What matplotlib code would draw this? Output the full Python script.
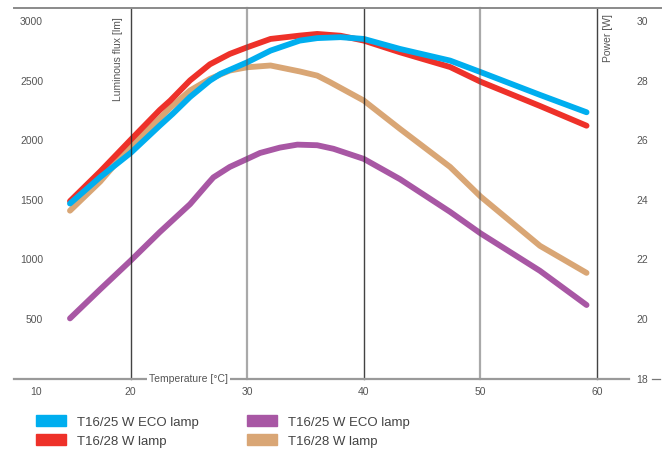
import matplotlib
matplotlib.use("Agg")
import matplotlib.pyplot as plt
from matplotlib.patches import Patch

plt.rcParams['font.family'] = ['Liberation Sans', 'DejaVu Sans']

# ---------------- data ----------------
# Luminous flux [lm] (left axis)
blue_x = [14.8, 17.4, 20.0, 22.5, 23.6, 25.1, 26.8, 27.7, 30.0, 32.0, 34.5, 36.0, 38.0, 40.0, 43.1, 47.4, 50.0, 55.1, 59.1]
blue_y = [1470, 1693, 1895, 2125, 2223, 2366, 2503, 2559, 2657, 2755, 2839, 2860, 2868, 2853, 2769, 2671, 2575, 2383, 2237]
blue_label = "T16/25 W ECO lamp"

red_x = [14.8, 17.4, 20.0, 22.5, 23.4, 25.1, 26.8, 28.5, 30.0, 32.0, 34.5, 36.0, 38.0, 40.0, 43.1, 47.4, 50.0, 55.1, 59.1]
red_y = [1490, 1740, 2005, 2256, 2335, 2505, 2640, 2727, 2783, 2853, 2881, 2895, 2880, 2839, 2741, 2617, 2494, 2290, 2124]
red_label = "T16/28 W lamp"

# Power [W] (right axis)
purple_x = [14.8, 17.4, 20.0, 22.5, 25.1, 26.6, 27.1, 28.5, 30.0, 31.1, 32.8, 34.3, 36.0, 37.4, 40.0, 43.1, 47.4, 50.0, 55.1, 59.1]
purple_y = [20.02, 21.00, 21.96, 22.92, 23.86, 24.54, 24.76, 25.11, 25.38, 25.58, 25.76, 25.86, 25.84, 25.72, 25.38, 24.70, 23.60, 22.88, 21.62, 20.47]
purple_label = "T16/25 W ECO lamp"

tan_x = [14.8, 17.4, 20.0, 22.5, 23.4, 25.1, 26.8, 28.5, 30.0, 32.0, 34.5, 36.0, 37.1, 40.0, 43.1, 47.4, 50.0, 55.1, 59.1]
tan_y = [23.64, 24.62, 25.80, 26.74, 27.10, 27.68, 28.07, 28.35, 28.46, 28.52, 28.32, 28.18, 27.96, 27.34, 26.39, 25.11, 24.12, 22.46, 21.55]
tan_label = "T16/28 W lamp"

x_ticks = [10, 20, 30, 40, 50, 60]
lum_ticks = [500, 1000, 1500, 2000, 2500, 3000]
pow_ticks = [20, 22, 24, 26, 28, 30]
pow_bottom_tick = 18

x_title = "Temperature [°C]"
lum_title = "Luminous flux [lm]"
pow_title = "Power [W]"

# ---------------- style ----------------
C_BLUE = "#00AEEF"
C_RED = "#EE3129"
C_PURPLE = "#A857A4"
C_TAN = "#D9A675"
TXT = "#555555"
LW = 4.2

fig = plt.figure(figsize=(6.62, 4.52), dpi=100)
W, H = 662, 452
ax_left, ax_right = 14, 662
ax_top, ax_bot = 9, 379.5
ax = fig.add_axes([ax_left / W, 1 - ax_bot / H, (ax_right - ax_left) / W, (ax_bot - ax_top) / H])
ax2 = ax.twinx()

LUM_TOP = 3113
ax.set_xlim(10, 65.57)
ax.set_ylim(0, LUM_TOP)
ax2.set_ylim(18, 18 + LUM_TOP / 250)

for a in (ax, ax2):
    for s in a.spines.values():
        s.set_visible(False)
    a.set_xticks([])
    a.set_yticks([])

ax.set_zorder(ax2.get_zorder() + 1)
ax.patch.set_visible(False)

kw = dict(lw=LW, solid_capstyle='round', solid_joinstyle='round')
# power curves (below)
ax2.plot(tan_x, tan_y, color=C_TAN, **kw)
ax2.plot(purple_x, purple_y, color=C_PURPLE, **kw)
# flux curves
ax.plot(red_x, red_y, color=C_RED, zorder=3, **kw)
ax.plot(blue_x, blue_y, color=C_BLUE, zorder=4, **kw)

# vertical grid lines
for xv in x_ticks[1:]:
    dark = xv in (20, 40, 60)
    ax.plot([xv, xv], [0, LUM_TOP], color="#222222" if dark else "#555555",
            alpha=0.85 if dark else 0.5, lw=1.0 if dark else 1.6, zorder=5, clip_on=False)

# top and bottom lines
ax.plot([10, 65.57], [LUM_TOP, LUM_TOP], color="#8a8a8a", lw=1.4, zorder=6, clip_on=False)
ax.plot([10, 62.7], [0, 0], color="#9a9a9a", lw=1.6, zorder=6, clip_on=False)
ax.plot([64.7, 65.4], [0, 0], color="#777777", lw=0.9, zorder=6, clip_on=False)

# left tick labels
for v in lum_ticks:
    ax.text(12.5, v, f"{v}", ha='right', va='center', fontsize=7.5, color=TXT)
# right tick labels
for v in pow_ticks:
    ax2.text(63.9, v, f"{v}", ha='center', va='center', fontsize=7.5, color=TXT)
ax2.text(63.9, pow_bottom_tick, f"{pow_bottom_tick}", ha='center', va='center', fontsize=7.5, color=TXT)

# x tick labels
xt = ax.get_xaxis_transform()
for v in x_ticks:
    xpos = v if v != 10 else 11.9
    ax.text(xpos, -0.034, f"{v}", ha='center', va='center', fontsize=7.5, color=TXT, transform=xt)

# axis titles
ax.text(25.0, 0, x_title, ha='center', va='center', fontsize=7.5, color=TXT, zorder=7,
        bbox=dict(facecolor='white', edgecolor='none', pad=1.5))
ax.text(18.9, 3046, lum_title, rotation=90, ha='center', va='top', fontsize=7.5, color=TXT)
ax.text(60.95, 3071, pow_title, rotation=90, ha='center', va='top', fontsize=7.5, color=TXT)

# legend
handles = [Patch(color=C_BLUE), Patch(color=C_RED), Patch(color=C_PURPLE), Patch(color=C_TAN)]
labels = [blue_label, red_label, purple_label, tan_label]
fig.legend(handles, labels, ncol=2, loc='upper left', bbox_to_anchor=(36 / W, 1 - 416 / H),
           frameon=False, fontsize=9.5, handlelength=2.25, handleheight=0.85,
           handletextpad=0.85, columnspacing=3.65, labelspacing=0.5, borderpad=0, borderaxespad=0,
           labelcolor="#444444")

fig.savefig("out.png", dpi=100)
